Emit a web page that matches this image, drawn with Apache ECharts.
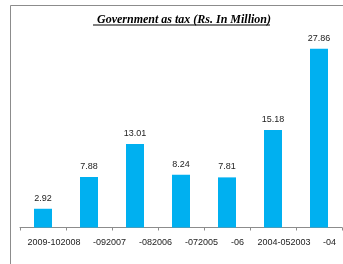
<!DOCTYPE html>
<html>
<head>
<meta charset="utf-8">
<script src="https://cdn.jsdelivr.net/npm/echarts@6/dist/echarts.min.js"></script>
<style>
  html, body { margin: 0; padding: 0; background: #fff; }
  #chart { width: 343px; height: 264px; }
</style>
</head>
<body>
<div id="chart"></div>
<script>
// axis labels as they appear in the picture (the original year labels got merged)
var categories = ['2009-102008', '-092007', '-082006', '-072005', '-06', '2004-052003', '-04'];
var taxValues = [2.92, 7.88, 13.01, 8.24, 7.81, 15.18, 27.86];
var titleText = 'Government as tax (Rs. In Million)';

var chart = echarts.init(document.getElementById('chart'));

// labels starting with a digit sit a bit left of the ones starting with a dash
var axisData = categories.map(function (c) {
  if (/^\d/.test(c)) {
    return { value: c, textStyle: { align: 'center', padding: [0, 0, 0, 22] } };
  }
  return { value: c, textStyle: { align: 'left', padding: [0, 0, 0, 4] } };
});

var option = {
  backgroundColor: '#fff',
  animation: false,
  title: {
    text: titleText,
    left: 179,
    top: 9,
    textAlign: 'center',
    textStyle: {
      fontFamily: 'Liberation Serif',
      fontStyle: 'italic',
      fontWeight: 'bold',
      fontSize: 12,
      color: '#000'
    }
  },
  graphic: [
    {
      type: 'rect',
      shape: { x: 10.5, y: 5.5, width: 400, height: 300 },
      style: { fill: 'none', stroke: '#8c8c8c', lineWidth: 1 },
      silent: true
    },
    {
      type: 'rect',
      shape: { x: 93, y: 24.5, width: 177, height: 1 },
      style: { fill: '#000' },
      silent: true
    }
  ],
  grid: {
    left: 20,
    right: 1,
    top: 35,
    bottom: 36.5
  },
  xAxis: {
    type: 'category',
    data: axisData,
    axisLine: { show: true, lineStyle: { color: '#8c8c8c', width: 1 } },
    axisTick: { show: true, length: 3, lineStyle: { color: '#8c8c8c' } },
    axisLabel: {
      interval: 0,
      margin: 11,
      fontFamily: 'Liberation Sans',
      fontSize: 9,
      color: '#222'
    }
  },
  yAxis: {
    type: 'value',
    min: 0,
    max: 30,
    show: false,
    splitLine: { show: false }
  },
  series: [{
    name: 'Government as tax',
    type: 'bar',
    barWidth: 18,
    itemStyle: { color: '#00b0f0' },
    label: {
      show: true,
      position: 'top',
      distance: 6,
      fontFamily: 'Liberation Sans',
      fontSize: 9,
      color: '#222',
      formatter: function (p) { return p.value.toFixed(2); }
    },
    data: taxValues
  }]
};

chart.setOption(option);
</script>
</body>
</html>
